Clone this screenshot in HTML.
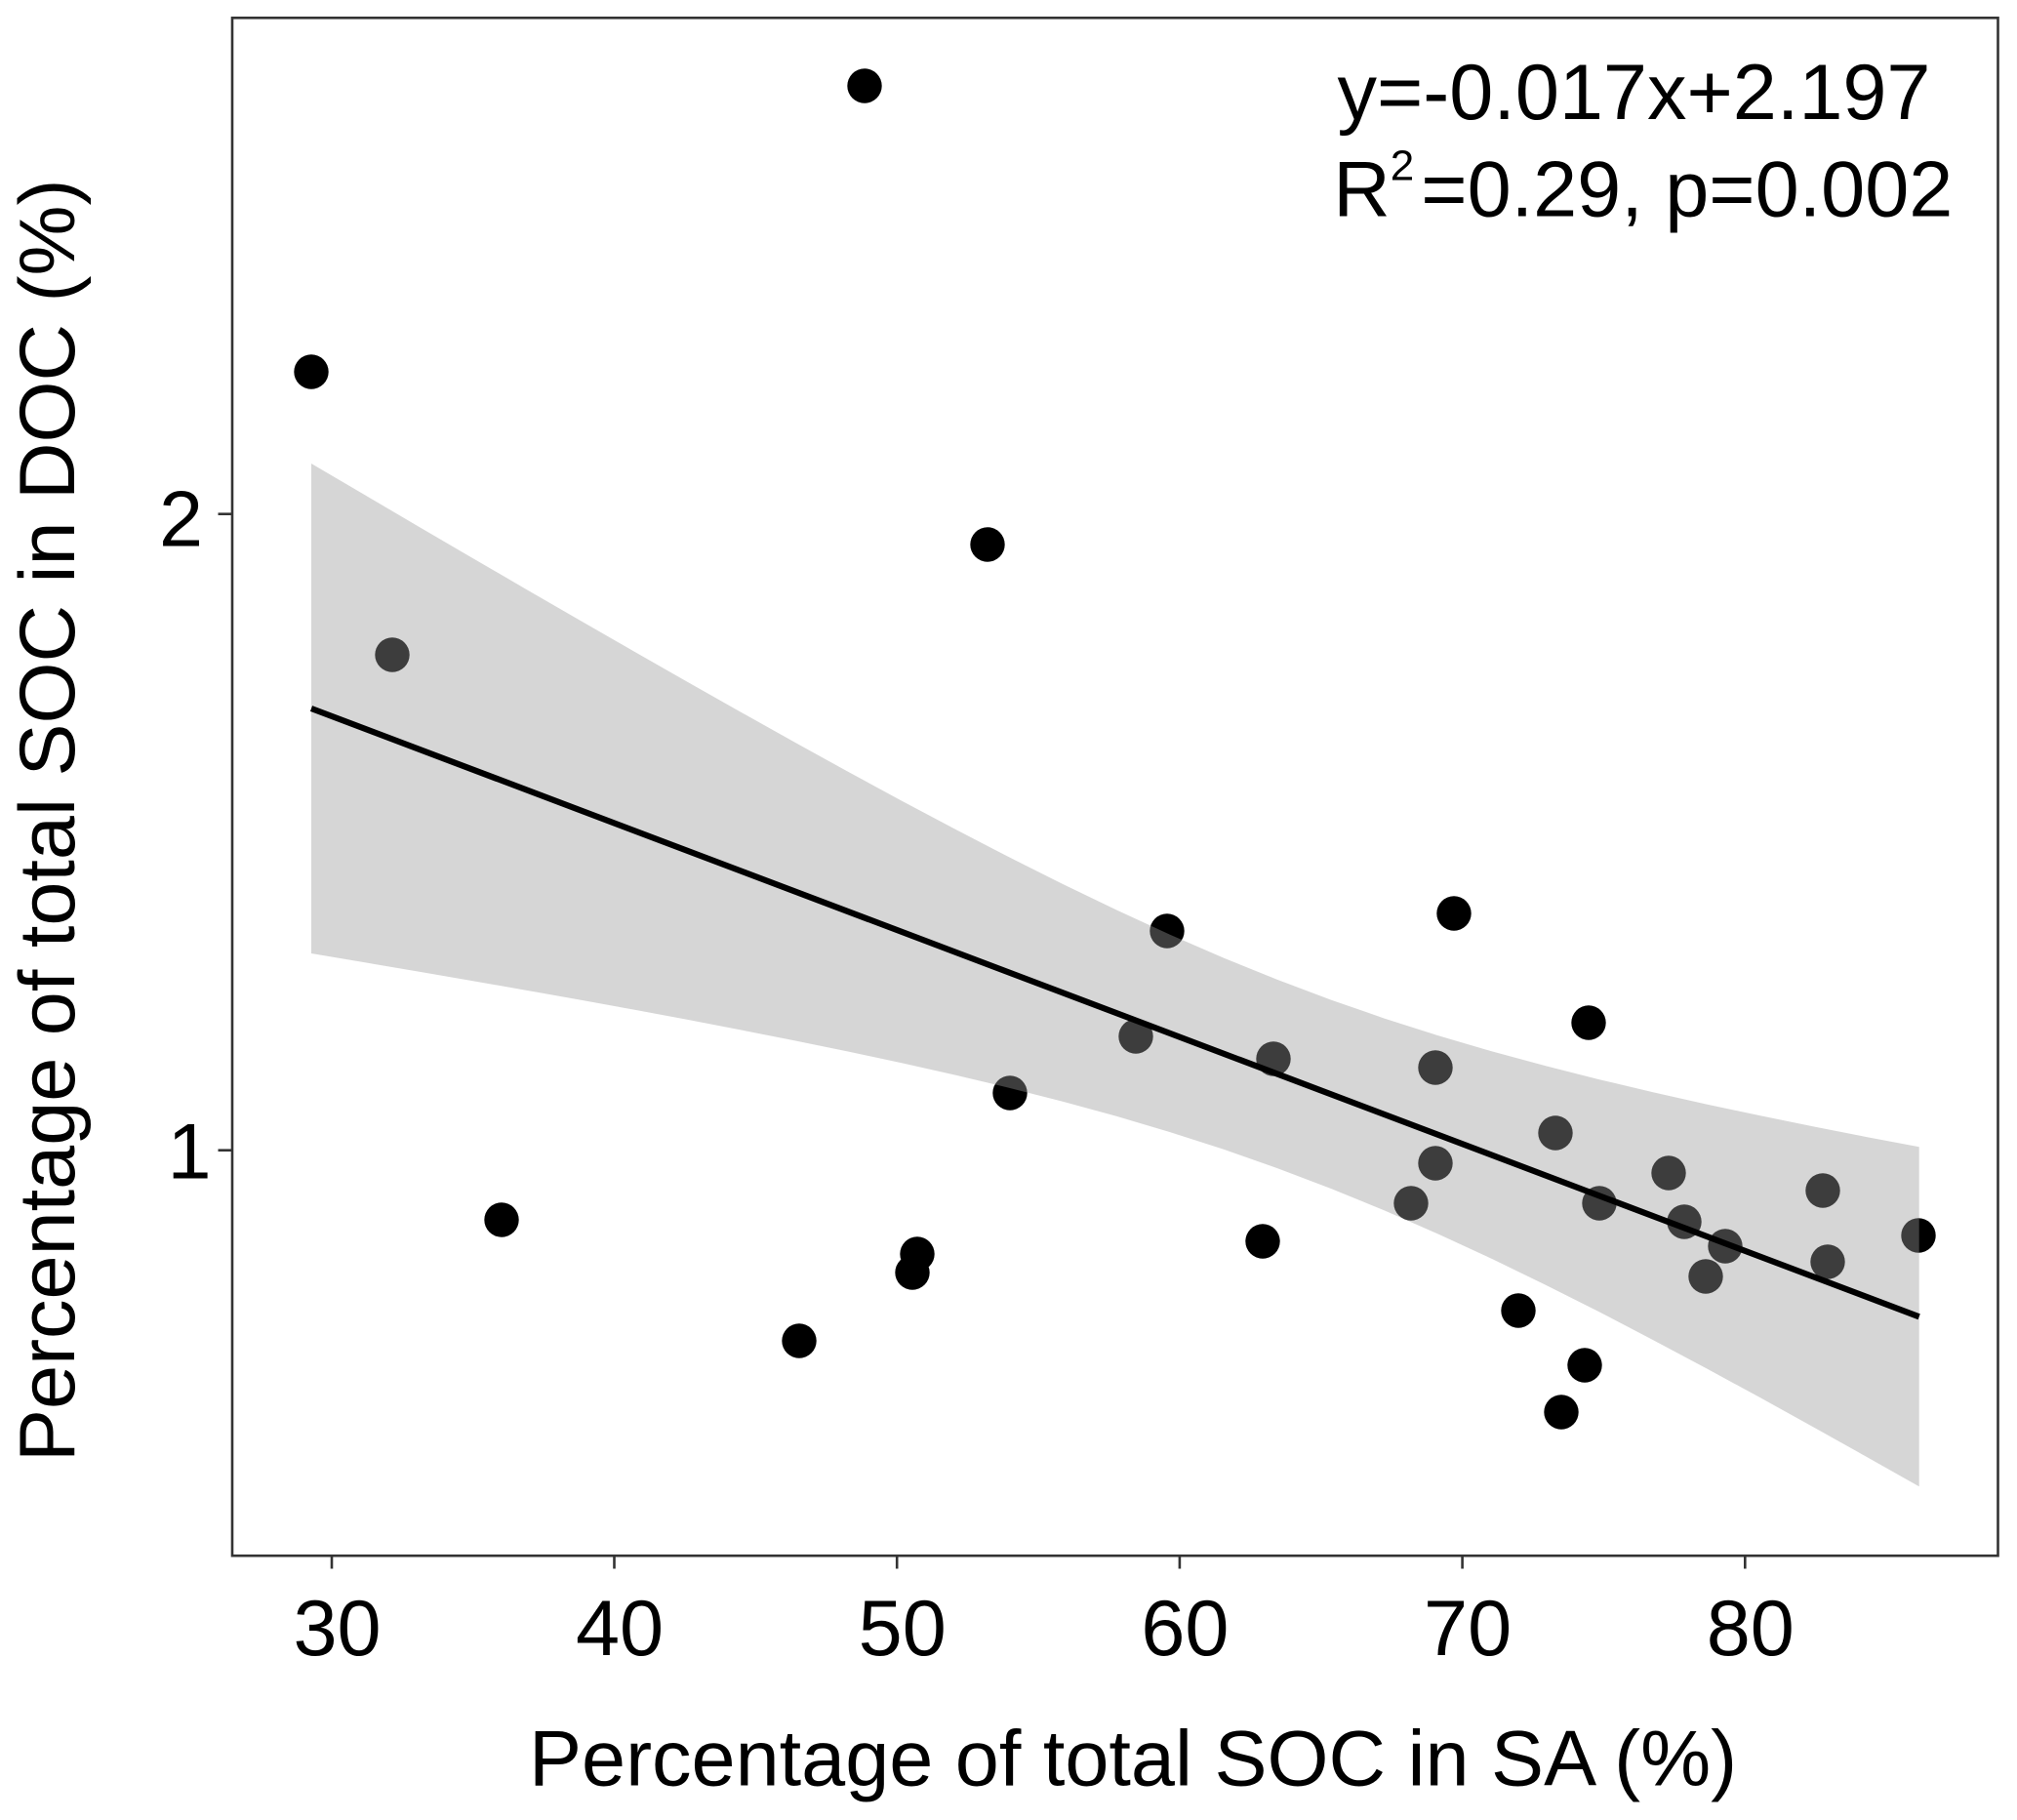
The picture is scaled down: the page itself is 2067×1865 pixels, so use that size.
<!DOCTYPE html>
<html>
<head>
<meta charset="utf-8">
<style>
  html, body { margin: 0; padding: 0; background: #ffffff; }
  svg { display: block; }
  text { font-family: "Liberation Sans", Arial, sans-serif; fill: #000000; }
</style>
</head>
<body>
<svg width="2067" height="1865" viewBox="0 0 2067 1865" xmlns="http://www.w3.org/2000/svg">
  <rect x="0" y="0" width="2067" height="1865" fill="#ffffff"/>

  <!-- points (drawn first; ribbon overlays them) -->
  <g fill="#000000">
    <circle cx="886" cy="88" r="17.7"/>
    <circle cx="319" cy="381" r="17.7"/>
    <circle cx="1012" cy="558" r="17.7"/>
    <circle cx="402" cy="671" r="17.7"/>
    <circle cx="1196" cy="954" r="17.7"/>
    <circle cx="1490" cy="936" r="17.7"/>
    <circle cx="1164" cy="1062" r="17.7"/>
    <circle cx="1305" cy="1085" r="17.7"/>
    <circle cx="1035" cy="1120" r="17.7"/>
    <circle cx="1628" cy="1048" r="17.7"/>
    <circle cx="1471" cy="1094" r="17.7"/>
    <circle cx="1594" cy="1161" r="17.7"/>
    <circle cx="1471" cy="1192" r="17.7"/>
    <circle cx="1710" cy="1202" r="17.7"/>
    <circle cx="1446" cy="1233" r="17.7"/>
    <circle cx="1639" cy="1233" r="17.7"/>
    <circle cx="1868" cy="1220" r="17.7"/>
    <circle cx="1726" cy="1252" r="17.7"/>
    <circle cx="1768" cy="1277" r="17.7"/>
    <circle cx="1873" cy="1293" r="17.7"/>
    <circle cx="1748" cy="1308" r="17.7"/>
    <circle cx="1966" cy="1266" r="17.7"/>
    <circle cx="514" cy="1250" r="17.7"/>
    <circle cx="1294" cy="1272" r="17.7"/>
    <circle cx="940" cy="1285" r="17.7"/>
    <circle cx="935" cy="1304" r="17.7"/>
    <circle cx="819" cy="1374" r="17.7"/>
    <circle cx="1556" cy="1343" r="17.7"/>
    <circle cx="1624" cy="1399" r="17.7"/>
    <circle cx="1600" cy="1447" r="17.7"/>
  </g>

  <!-- confidence ribbon -->
  <path fill="#999999" fill-opacity="0.4" stroke="none" d="
    M319,475.0 L374,507.3 L429,539.6 L484,571.7 L539,603.7 L594,635.5 L649,667.1 L704,698.5 L759,729.6
    L814,760.4 L869,790.7 L924,820.6 L979,849.8 L1034,878.3 L1089,905.9 L1144,932.4 L1199,957.7
    L1254,981.6 L1309,1003.9 L1364,1024.6 L1419,1043.7 L1474,1061.2 L1529,1077.4 L1584,1092.3
    L1639,1106.2 L1694,1119.3 L1749,1131.6 L1804,1143.3 L1859,1154.5 L1912.85,1165.1 L1966.7,1175.3
    L1966.7,1523.3 L1912.85,1492.9 L1859,1462.7 L1804,1432.3 L1749,1402.4 L1694,1373.1 L1639,1344.4
    L1584,1316.7 L1529,1290.0 L1474,1264.6 L1419,1240.5 L1364,1218.0 L1309,1197.1 L1254,1177.8
    L1199,1160.1 L1144,1143.8 L1089,1128.7 L1034,1114.7 L979,1101.6 L924,1089.2 L869,1077.5
    L814,1066.2 L759,1055.4 L704,1044.7 L649,1034.5 L594,1024.5 L539,1014.7 L484,1005.1 L429,995.6
    L374,986.3 L319,977.0 Z"/>

  <!-- regression line -->
  <line x1="319" y1="726" x2="1966.7" y2="1349.3" stroke="#000000" stroke-width="6.2"/>

  <!-- panel border -->
  <rect x="238" y="18.3" width="1809.5" height="1575.9" fill="none" stroke="#333333" stroke-width="2.6"/>

  <!-- x ticks -->
  <g stroke="#333333" stroke-width="2.6">
    <line x1="340" y1="1594" x2="340" y2="1607.5"/>
    <line x1="629.5" y1="1594" x2="629.5" y2="1607.5"/>
    <line x1="919.2" y1="1594" x2="919.2" y2="1607.5"/>
    <line x1="1208.9" y1="1594" x2="1208.9" y2="1607.5"/>
    <line x1="1498.6" y1="1594" x2="1498.6" y2="1607.5"/>
    <line x1="1788.3" y1="1594" x2="1788.3" y2="1607.5"/>
  </g>
  <!-- y ticks -->
  <g stroke="#333333" stroke-width="2.6">
    <line x1="223.5" y1="526.7" x2="238" y2="526.7"/>
    <line x1="223.5" y1="1178.7" x2="238" y2="1178.7"/>
  </g>

  <!-- x tick labels -->
  <g font-size="81" text-anchor="middle">
    <text x="345.5" y="1696">30</text>
    <text x="635" y="1696">40</text>
    <text x="924.7" y="1696">50</text>
    <text x="1214.4" y="1696">60</text>
    <text x="1504.1" y="1696">70</text>
    <text x="1793.8" y="1696">80</text>
  </g>

  <!-- y tick labels -->
  <g font-size="81" text-anchor="end">
    <text x="208" y="559.3">2</text>
    <text x="216.6" y="1207.3">1</text>
  </g>

  <!-- axis titles -->
  <text x="542" y="1829.3" font-size="81">Percentage of total SOC in SA (%)</text>
  <text transform="translate(76,1498) rotate(-90)" font-size="81">Percentage of total SOC in DOC (%)</text>

  <!-- annotation -->
  <text x="1370.5" y="122" font-size="81">y=-0.017x+2.197</text>
  <text x="1366.3" y="221.7" font-size="81">R<tspan font-size="44" dy="-37">2</tspan><tspan font-size="81" dy="37" dx="7">=0.29, p=0.002</tspan></text>
</svg>
</body>
</html>
